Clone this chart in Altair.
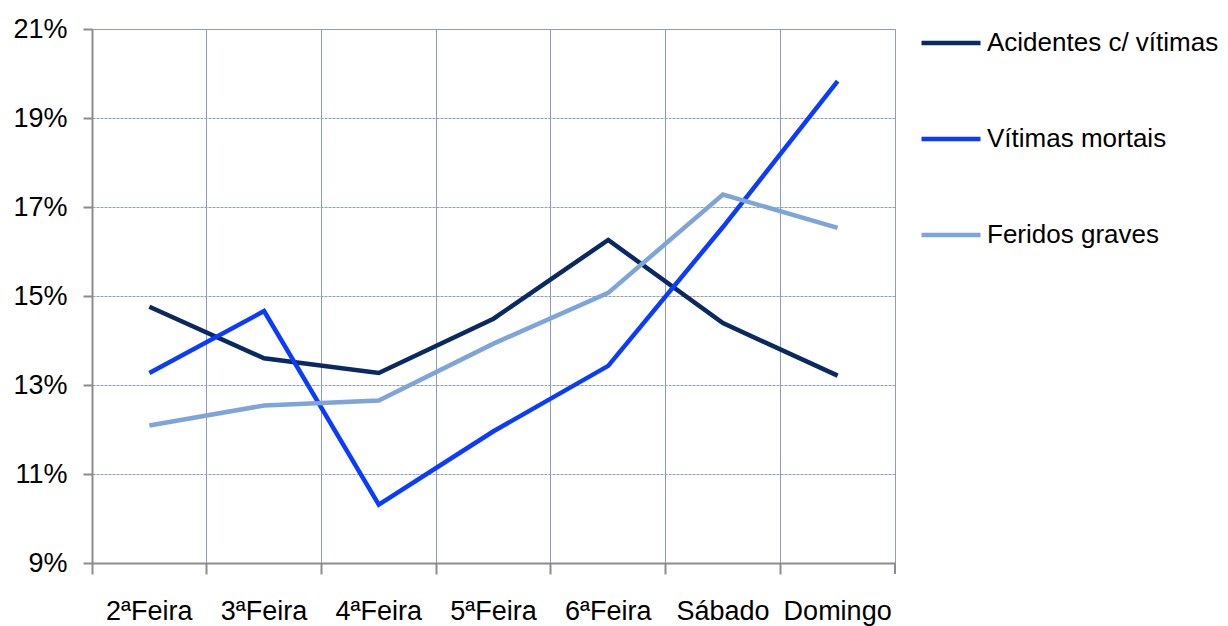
import altair as alt
import pandas as pd

days = ["2ªFeira", "3ªFeira", "4ªFeira", "5ªFeira", "6ªFeira", "Sábado", "Domingo"]
series_names = ["Acidentes c/ vítimas", "Vítimas mortais", "Feridos graves"]
acidentes = [14.76, 13.60, 13.27, 14.49, 16.26, 14.39, 13.21]
vitimas = [13.27, 14.66, 10.31, 11.96, 13.43, 16.55, 19.83]
feridos = [12.09, 12.54, 12.65, 13.93, 15.07, 17.28, 16.53]
colors = ["#0A2862", "#0A3CFF", "#7EA5DA"]
y_ticks = [9, 11, 13, 15, 17, 19, 21]

rows = []
for name, vals in zip(series_names, [acidentes, vitimas, feridos]):
    for d, v in zip(days, vals):
        rows.append({"dia": d, "serie": name, "valor": v})
df = pd.DataFrame(rows)

FONT = "Liberation Sans"
GRID = "#8C9CC4"
AXIS = "#8C8C8C"
FS = 27

x_enc = alt.X(
    "dia:N", sort=days, bandPosition=0.5,
    scale=alt.Scale(type="band", paddingInner=0, paddingOuter=0),
    axis=alt.Axis(
        title=None, bandPosition=0, labelOffset=0, labelAngle=0,
        grid=True, gridColor=GRID, gridWidth=1,
        domainColor=AXIS, domainWidth=2, tickColor=AXIS, tickWidth=2, tickSize=11,
        labelFont=FONT, labelFontSize=FS, labelColor="#000000", labelPadding=24,
    ),
)

lines = alt.Chart(df).mark_line(strokeWidth=4.5).encode(
    x=x_enc,
    y=alt.Y(
        "valor:Q",
        scale=alt.Scale(domain=[9, 21], nice=False, zero=False),
        axis=alt.Axis(
            title=None, values=y_ticks, labelExpr="datum.value + '%'",
            grid=True, gridColor=GRID, gridWidth=1, gridDash=[3, 1],
            domainColor=AXIS, domainWidth=2, tickColor=AXIS, tickWidth=2, tickSize=9,
            labelFont=FONT, labelFontSize=FS, labelColor="#000000", labelPadding=16,
        ),
    ),
    color=alt.Color(
        "serie:N", sort=series_names,
        scale=alt.Scale(domain=series_names, range=colors),
        legend=alt.Legend(
            title=None, orient="none", legendX=827, legendY=-18,
            symbolType="stroke", symbolSize=3481, symbolStrokeWidth=4.5,
            labelFont=FONT, labelFontSize=26, labelColor="#000000",
            labelOffset=4, rowPadding=51, padding=0, labelLimit=400,
        ),
    ),
)

# closing tick at the right end of the category axis
end_tick = alt.Chart(pd.DataFrame({"dia": [days[-1]]})).mark_rule(
    color=AXIS, strokeWidth=2
).encode(
    x=alt.X("dia:N", sort=days, bandPosition=1),
    y=alt.value(534),
    y2=alt.value(545),
)

chart = alt.layer(lines, end_tick).properties(
    width=803, height=534,
    padding={"left": 84, "top": 21, "right": 325, "bottom": 64},
    autosize=alt.AutoSizeParams(type="none"),
).configure_view(stroke=GRID, strokeWidth=1)

chart.save("out.html", embed_options={"renderer": "svg", "actions": False})
